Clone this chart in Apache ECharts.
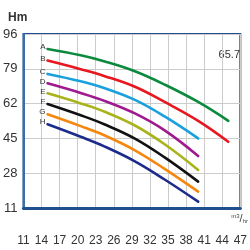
<!DOCTYPE html>
<html>
<head>
<meta charset="utf-8">
<script src="https://cdn.jsdelivr.net/npm/echarts@6/dist/echarts.min.js"></script>
<style>
  html, body { margin: 0; padding: 0; background: #fff; }
  #chart { width: 250px; height: 250px; }
</style>
</head>
<body>
<div id="chart"></div>
<script>
// tick labels
const xTicks = [11, 14, 17, 20, 23, 26, 29, 32, 35, 38, 41, 44, 47];
const yTicks = [11, 28, 45, 62, 79, 96];

// flow points (m3/hr)
const flowShort = [15, 20.5, 24.5, 29.5, 34.5, 40];
const flowLong = [15, 20.5, 24.5, 29.5, 34.5, 40, 45];

// head (Hm) per curve
const curveA = [88.7, 85.6, 82.6, 77.8, 71.2, 62.8, 53.6];
const curveB = [83.0, 78.8, 75.4, 70.2, 62.7, 53.6, 43.4];
const curveC = [76.5, 72.9, 69.5, 63.8, 55.6, 45.0];
const curveD = [71.9, 67.2, 63.3, 57.2, 48.8, 36.4];
const curveE = [67.0, 62.1, 58.0, 51.3, 42.0, 29.6];
const curveF = [61.8, 56.3, 51.8, 44.9, 35.6, 23.9];
const curveG = [56.8, 51.0, 46.4, 39.2, 30.0, 19.0];
const curveH = [51.9, 45.8, 41.0, 33.8, 24.8, 14.1];

const names = ['A', 'B', 'C', 'D', 'E', 'F', 'G', 'H'];
const curves = [curveA, curveB, curveC, curveD, curveE, curveF, curveG, curveH];
const colors = ['#0b8a3e', '#e8161f', '#1aa0dc', '#a0198e', '#a9b41c', '#111111', '#f5870f', '#1c2b8c'];

const font = "'Liberation Sans', sans-serif";

function makeSeries(i) {
    const ys = curves[i];
    const xs = ys.length > 6 ? flowLong : flowShort;
    const data = ys.map((y, k) => {
        if (k === 0) {
            return {
                value: [xs[k], y],
                label: { show: true, position: 'left', distance: 2, formatter: names[i] }
            };
        }
        return [xs[k], y];
    });
    return {
        name: names[i],
        type: 'line',
        smooth: 0.4,
        symbol: 'circle',
        symbolSize: 0.1,
        showSymbol: true,
        showAllSymbol: true,
        lineStyle: { color: colors[i], width: 2.6, cap: 'round' },
        itemStyle: { color: colors[i] },
        label: { show: false, color: '#333', fontSize: 8, fontFamily: font, offset: [0, -2] },
        emphasis: { disabled: true },
        data: data
    };
}

const chart = echarts.init(document.getElementById('chart'), null, { renderer: 'canvas' });

chart.setOption({
    animation: false,
    grid: {
        left: 22, right: 7, top: 34, bottom: 42,
        show: true,
        borderColor: '#1f4f8e',
        borderWidth: 2
    },
    title: {
        text: 'Hm',
        left: 3, top: 7,
        textStyle: { fontFamily: font, fontSize: 12, fontWeight: 'bold', color: '#333' }
    },
    xAxis: {
        type: 'value',
        min: 11, max: 47,
        axisLine: { show: true, lineStyle: { color: '#1f4f8e', width: 3 } },
        axisTick: { show: false, customValues: xTicks },
        axisLabel: {
            customValues: xTicks,
            margin: 27,
            fontFamily: font, fontSize: 12, color: '#333'
        },
        splitLine: { show: true, lineStyle: { color: '#cccccc', width: 1 } }
    },
    yAxis: {
        type: 'value',
        min: 11, max: 96,
        axisLine: { show: true, lineStyle: { color: '#3b6ea8', width: 2 } },
        axisTick: { show: false, customValues: yTicks },
        axisLabel: {
            customValues: yTicks,
            margin: 6,
            fontFamily: font, fontSize: 13, color: '#333'
        },
        splitLine: { show: true, lineStyle: { color: '#cccccc', width: 1 } }
    },
    graphic: [
        {
            type: 'text', right: 10, top: 49,
            style: { text: '65.7', fontFamily: font, fontSize: 11, fill: '#333' }
        },
        {
            type: 'text', right: 2, top: 213,
            style: {
                text: '{a|m3}{b|/}{c|hr}',
                rich: {
                    a: { fontSize: 6, fontFamily: font, fill: '#444', verticalAlign: 'top' },
                    b: { fontSize: 11, fontFamily: font, fill: '#444' },
                    c: { fontSize: 6, fontFamily: font, fill: '#444', verticalAlign: 'bottom' }
                }
            }
        }
    ],
    series: curves.map((c, i) => makeSeries(i))
});
</script>
</body>
</html>
